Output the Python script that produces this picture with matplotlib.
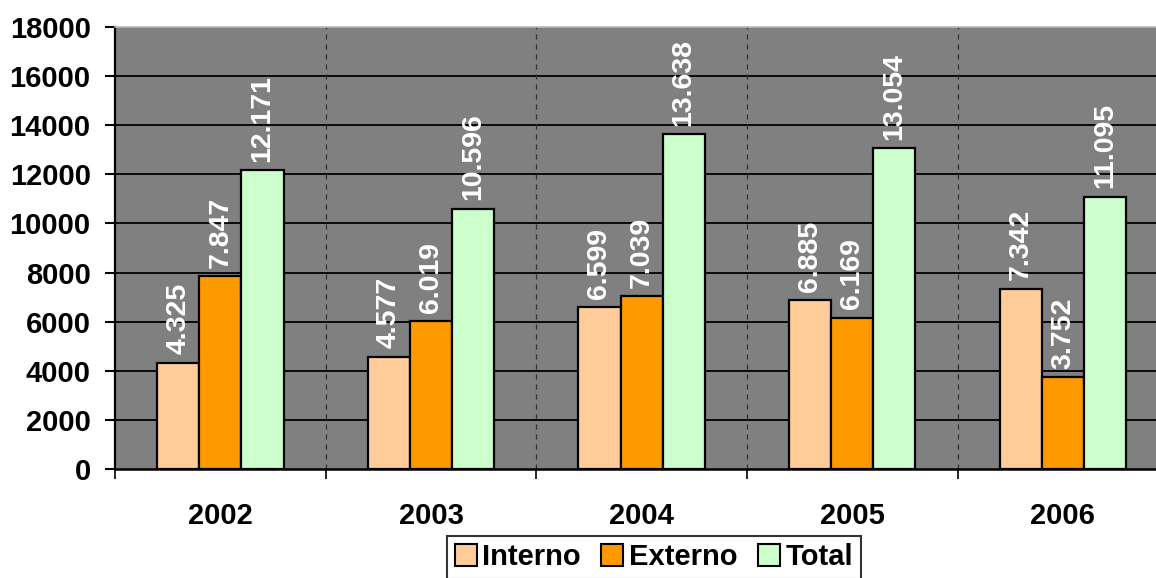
import matplotlib
matplotlib.use("Agg")
import matplotlib.pyplot as plt
from matplotlib.patches import Patch
import numpy as np

plt.rcParams['font.family'] = ['Liberation Sans', 'DejaVu Sans']
plt.rcParams['font.weight'] = 'bold'

years = ['2002', '2003', '2004', '2005', '2006']
interno = [4325, 4577, 6599, 6885, 7342]
externo = [7847, 6019, 7039, 6169, 3752]
total = [12171, 10596, 13638, 13054, 11095]

series_names = ['Interno', 'Externo', 'Total']
colores = ['#FFCC99', '#FF9900', '#CCFFCC']

fig = plt.figure(figsize=(11.56, 5.78), dpi=100)
ax = fig.add_axes([115/1156, 1 - 469/578, 1 - 115/1156, (469 - 27)/578])
ax.set_facecolor('#808080')

x = np.arange(len(years))
w = 0.2

def fmt(v):
    # separador de miles con punto
    return f"{v:,}".replace(',', '.')

for i, (vals, col) in enumerate(zip([interno, externo, total], colores)):
    bars = ax.bar(x + (i - 1) * w, vals, w, color=col, edgecolor='black',
                  linewidth=1.6, zorder=3)
    for b, v in zip(bars, vals):
        ax.annotate(fmt(v), (b.get_x() + b.get_width() / 2, v),
                    xytext=(0, 6), textcoords='offset points',
                    rotation=90, ha='center', va='bottom',
                    color='white', fontsize=20.5, fontweight='bold', zorder=4)

# lineas horizontales negras
for yv in range(2000, 18000, 2000):
    ax.axhline(yv, color='black', linewidth=1.3, zorder=1)

# divisiones punteadas entre anios
bounds = np.arange(0.5, len(years) - 0.5, 1)
for bx in bounds:
    ax.axvline(bx, color='#303030', linewidth=0.9, linestyle=(0, (4, 4)), zorder=1)

ax.set_xticks(np.arange(-0.5, len(years), 1))
ax.set_xticklabels([])
ax.set_xticks(x, minor=True)
ax.set_xticklabels(years, minor=True, fontsize=21, fontweight='bold')
ax.tick_params(axis='x', which='major', length=7, width=1.2, direction='out')
ax.tick_params(axis='x', which='minor', length=0, pad=24)
ax.tick_params(axis='y', length=7, width=1.5, direction='out', pad=10.5, labelsize=21)

ax.set_ylim(0, 18000)
ax.set_yticks(range(0, 18001, 2000))
# el grafico original queda cortado a la derecha
ax.set_xlim(-0.5, 4.442)
for lab in ax.get_yticklabels():
    lab.set_fontweight('bold')

ax.spines['left'].set_linewidth(1.6)
ax.spines['bottom'].set_linewidth(1.8)
ax.spines['top'].set_color('#b8b8b8')
ax.spines['top'].set_linewidth(1.2)
ax.spines['right'].set_visible(False)

handles = [Patch(facecolor=c, edgecolor='black', linewidth=1.5) for c in colores]
leg = fig.legend(handles, series_names, loc='upper center',
                 bbox_to_anchor=(654/1156, 1 - 536/578), ncol=3,
                 frameon=True, fancybox=False, edgecolor='black',
                 prop={'size': 21, 'weight': 'bold'},
                 handlelength=0.75, handleheight=0.75, handletextpad=0.2,
                 columnspacing=0.7, borderpad=0.25, borderaxespad=0)
leg.get_frame().set_linewidth(1.5)

fig.savefig('out.png', dpi=100)
